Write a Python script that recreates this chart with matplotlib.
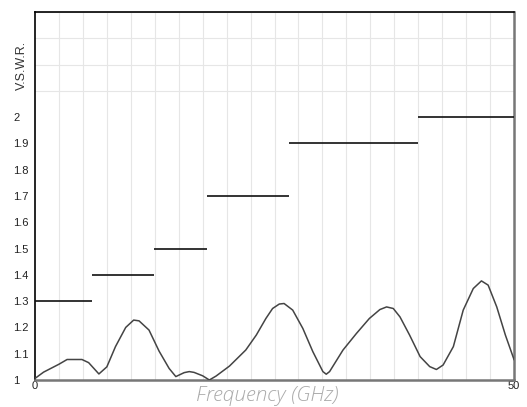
import matplotlib
matplotlib.use("Agg")
import matplotlib.pyplot as plt

# Measured VSWR curve
freq = [0, 0.9, 2.5, 3.35, 4.9, 5.6, 6.67, 7.5, 8.4, 9.47, 10.3, 10.86, 11.9, 12.95,
        14.0, 14.7, 15.57, 16.1, 16.6, 17.5, 18.2, 18.9, 20.3, 22.0, 23.1, 24.1, 24.8,
        25.5, 26.0, 26.9, 27.96, 29.0, 30.05, 30.4, 30.75, 32.15, 33.55, 34.9, 36.0,
        36.7, 37.4, 38.1, 39.1, 40.2, 41.2, 41.9, 42.6, 43.67, 44.7, 45.75, 46.6, 47.3,
        48.2, 49.1, 50.0]
vswr = [1.006, 1.03, 1.06, 1.078, 1.078, 1.066, 1.023, 1.05, 1.127, 1.20, 1.228, 1.225,
        1.19, 1.11, 1.044, 1.013, 1.028, 1.032, 1.029, 1.016, 1.0, 1.015, 1.053, 1.114,
        1.171, 1.234, 1.272, 1.289, 1.291, 1.266, 1.196, 1.108, 1.032, 1.022, 1.032,
        1.114, 1.177, 1.234, 1.268, 1.278, 1.272, 1.24, 1.171, 1.089, 1.051, 1.04, 1.057,
        1.127, 1.266, 1.348, 1.377, 1.361, 1.278, 1.171, 1.078]

# Spec limit steps
limit_start = [0, 6, 12.4, 18, 26.5, 40]
limit_end = [6, 12.4, 18, 26.5, 40, 50]
limit_value = [1.3, 1.4, 1.5, 1.7, 1.9, 2.0]

ytick_vals = [1.0, 1.1, 1.2, 1.3, 1.4, 1.5, 1.6, 1.7, 1.8, 1.9, 2.0]
ytick_labels = ["1", "1.1", "1.2", "1.3", "1.4", "1.5", "1.6", "1.7", "1.8", "1.9", "2"]
xtick_vals = [0, 50]
xtick_labels = ["0", "50"]

W, H = 527, 407
fig = plt.figure(figsize=(W / 100, H / 100), dpi=100)
left, right, top, bottom = 35, 514, 12, 380
ax = fig.add_axes([left / W, 1 - bottom / H, (right - left) / W, (bottom - top) / H])

ax.set_xlim(0, 50)
ax.set_ylim(1.0, 2.4)

# grid
ax.set_xticks([i * 2.5 for i in range(21)], minor=True)
ax.set_yticks([1 + i * 0.1 for i in range(15)], minor=True)
ax.grid(True, which="minor", color="#e6e6e6", linewidth=0.8)
ax.tick_params(which="minor", length=0)
ax.set_axisbelow(True)

ax.set_yticks(ytick_vals)
ax.set_yticklabels(ytick_labels)
ax.set_xticks(xtick_vals)
ax.set_xticklabels(xtick_labels)
ax.tick_params(axis="both", which="major", length=0, labelsize=8, labelcolor="#222222")
ax.tick_params(axis="y", pad=15.5)
for lab in ax.get_yticklabels():
    lab.set_horizontalalignment("left")
    lab.set_fontfamily("Liberation Sans")
for lab in ax.get_xticklabels():
    lab.set_fontfamily("Liberation Sans")
ax.tick_params(axis="x", pad=1)

for s in ["left", "top"]:
    ax.spines[s].set_color("#000000")
    ax.spines[s].set_linewidth(1.2)
for s in ["right", "bottom"]:
    ax.spines[s].set_color("#777777")
    ax.spines[s].set_linewidth(1.8)

ax.hlines(limit_value, limit_start, limit_end, colors="#111111", linewidth=1.2, zorder=3)
ax.plot(freq, vswr, color="#444444", linewidth=1.1, zorder=4)

fig.text(22 / W, 1 - 65 / H, "V.S.W.R.", rotation=90, ha="center", va="center",
         fontsize=9, color="#333333", family="Liberation Sans")
fig.text(267 / W, 1 - 386 / H, "Frequency (GHz)", ha="center", va="top",
         fontsize=15, color="#aaaaaa", family="Open Sans", style="italic",
         fontweight="light")

fig.savefig("out.png", dpi=100)
